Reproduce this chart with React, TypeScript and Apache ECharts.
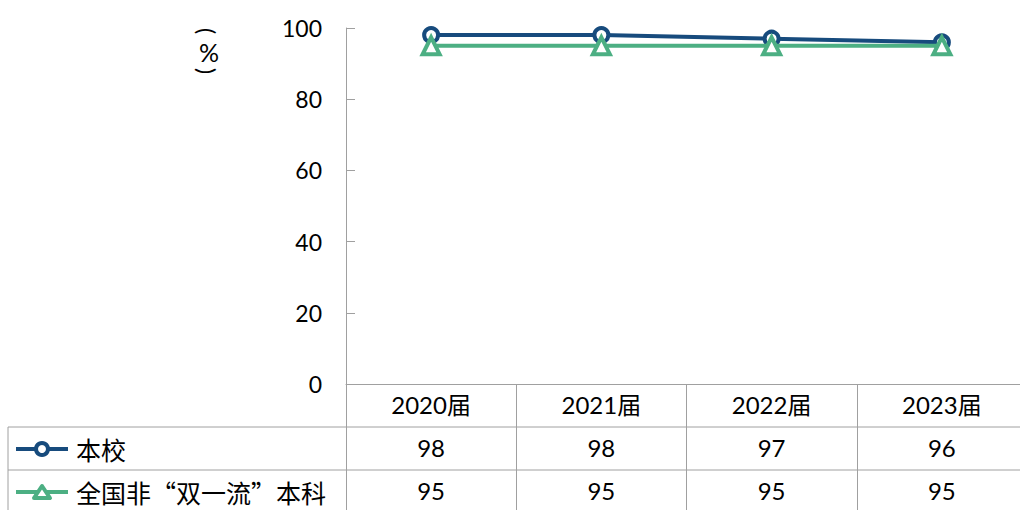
import React, { useEffect, useRef } from "react";
import * as echarts from "echarts";

const categories = ["2020届", "2021届", "2022届", "2023届"];
const seriesNames = ["本校", "全国非“双一流”本科"];
const schoolValues = [98, 98, 97, 96];
const nationalValues = [95, 95, 95, 95];
const yAxisTitleParts = ["(", "%", ")"];

const BLUE = "#174b7d";
const GREEN = "#4caf83";
const GRAY = "#a0a0a0";
const FONT = "Lato, 'Noto Sans CJK SC', sans-serif";
const CJK_FONT = "'Noto Sans CJK SC', Lato, sans-serif";

export default function App() {
  const ref = useRef<HTMLDivElement>(null);
  useEffect(() => {
    if (!ref.current) return;
    const chart = echarts.init(ref.current, null, { renderer: "svg" });
    const labelStyle = { fontSize: 24, color: "#000", fontFamily: FONT, interval: 0, margin: 8 };
    const rowAxis = (data: number[], offset: number) => ({
      type: "category",
      data: data.map(String),
      position: "bottom",
      offset,
      axisLine: { show: false },
      axisTick: { show: false },
      axisLabel: labelStyle,
    });
    const rowY = [449, 492];
    const legendCells: any[] = [];
    seriesNames.forEach((name, i) => {
      const color = i === 0 ? BLUE : GREEN;
      const y = rowY[i];
      legendCells.push({
        type: "line",
        shape: { x1: 16, y1: y, x2: 68, y2: y },
        style: { stroke: color, lineWidth: 4 },
      });
      if (i === 0) {
        legendCells.push({
          type: "circle",
          shape: { cx: 42, cy: y, r: 6 },
          style: { fill: "#fff", stroke: color, lineWidth: 4 },
        });
      } else {
        legendCells.push({
          type: "polygon",
          shape: { points: [[42, y - 6], [50, y + 6], [34, y + 6]] },
          style: { fill: "#fff", stroke: color, lineWidth: 4, lineJoin: "round" },
        });
      }
      legendCells.push({
        type: "text",
        x: 76,
        y: y,
        style: { text: name, fontSize: 25, fill: "#000", fontFamily: CJK_FONT, verticalAlign: "middle" },
      });
    });

    const titleY = [31, 52, 71];
    const titleTexts = yAxisTitleParts.map((t, i) => ({
      type: "text",
      x: i === 1 ? 209 : 207,
      y: titleY[i],
      rotation: i === 1 ? 0 : -Math.PI / 2,
      style: {
        text: t,
        fontSize: i === 1 ? 25 : 23,
        fill: "#000",
        fontFamily: FONT,
        align: "center",
        verticalAlign: "middle",
      },
    }));

    chart.setOption({
      animation: false,
      textStyle: { fontFamily: FONT },
      grid: { left: 346, top: 28, width: 681, height: 356 },
      xAxis: [
        {
          type: "category",
          data: categories,
          position: "bottom",
          boundaryGap: true,
          axisLine: { lineStyle: { color: GRAY, width: 1 } },
          axisTick: { show: true, interval: 0, alignWithLabel: false, length: 126, lineStyle: { color: GRAY } },
          axisLabel: labelStyle,
        },
        rowAxis(schoolValues, 43),
        rowAxis(nationalValues, 86),
      ],
      yAxis: {
        type: "value",
        min: 0,
        max: 100,
        interval: 20,
        axisLine: { show: true, lineStyle: { color: GRAY } },
        axisTick: { show: true, inside: true, length: 9, lineStyle: { color: GRAY } },
        splitLine: { show: false },
        axisLabel: { fontSize: 23, color: "#000", fontFamily: FONT, margin: 24 },
      },
      series: [
        {
          type: "line",
          name: seriesNames[0],
          data: schoolValues,
          xAxisIndex: 0,
          symbol: "circle",
          symbolSize: 14,
          lineStyle: { color: BLUE, width: 4 },
          itemStyle: { color: "#fff", borderColor: BLUE, borderWidth: 4 },
          z: 3,
        },
        {
          type: "line",
          name: seriesNames[1],
          data: nationalValues,
          xAxisIndex: 0,
          symbol: "triangle",
          symbolSize: 17,
          lineStyle: { color: GREEN, width: 4 },
          itemStyle: { color: "#fff", borderColor: GREEN, borderWidth: 4 },
          z: 4,
        },
      ],
      graphic: [
        { type: "line", shape: { x1: 8, y1: 427, x2: 1030, y2: 427 }, style: { stroke: GRAY, lineWidth: 1 } },
        { type: "line", shape: { x1: 8, y1: 470, x2: 1030, y2: 470 }, style: { stroke: GRAY, lineWidth: 1 } },
        { type: "line", shape: { x1: 8, y1: 427, x2: 8, y2: 510 }, style: { stroke: GRAY, lineWidth: 1 } },
        ...legendCells,
        ...titleTexts,
      ],
    });
    return () => chart.dispose();
  }, []);
  return (
    <div style={{ position: "absolute", left: 0, top: 0, width: 1020, height: 510, overflow: "hidden" }}>
      <div ref={ref} style={{ width: 1030, height: 510 }} />
    </div>
  );
}
